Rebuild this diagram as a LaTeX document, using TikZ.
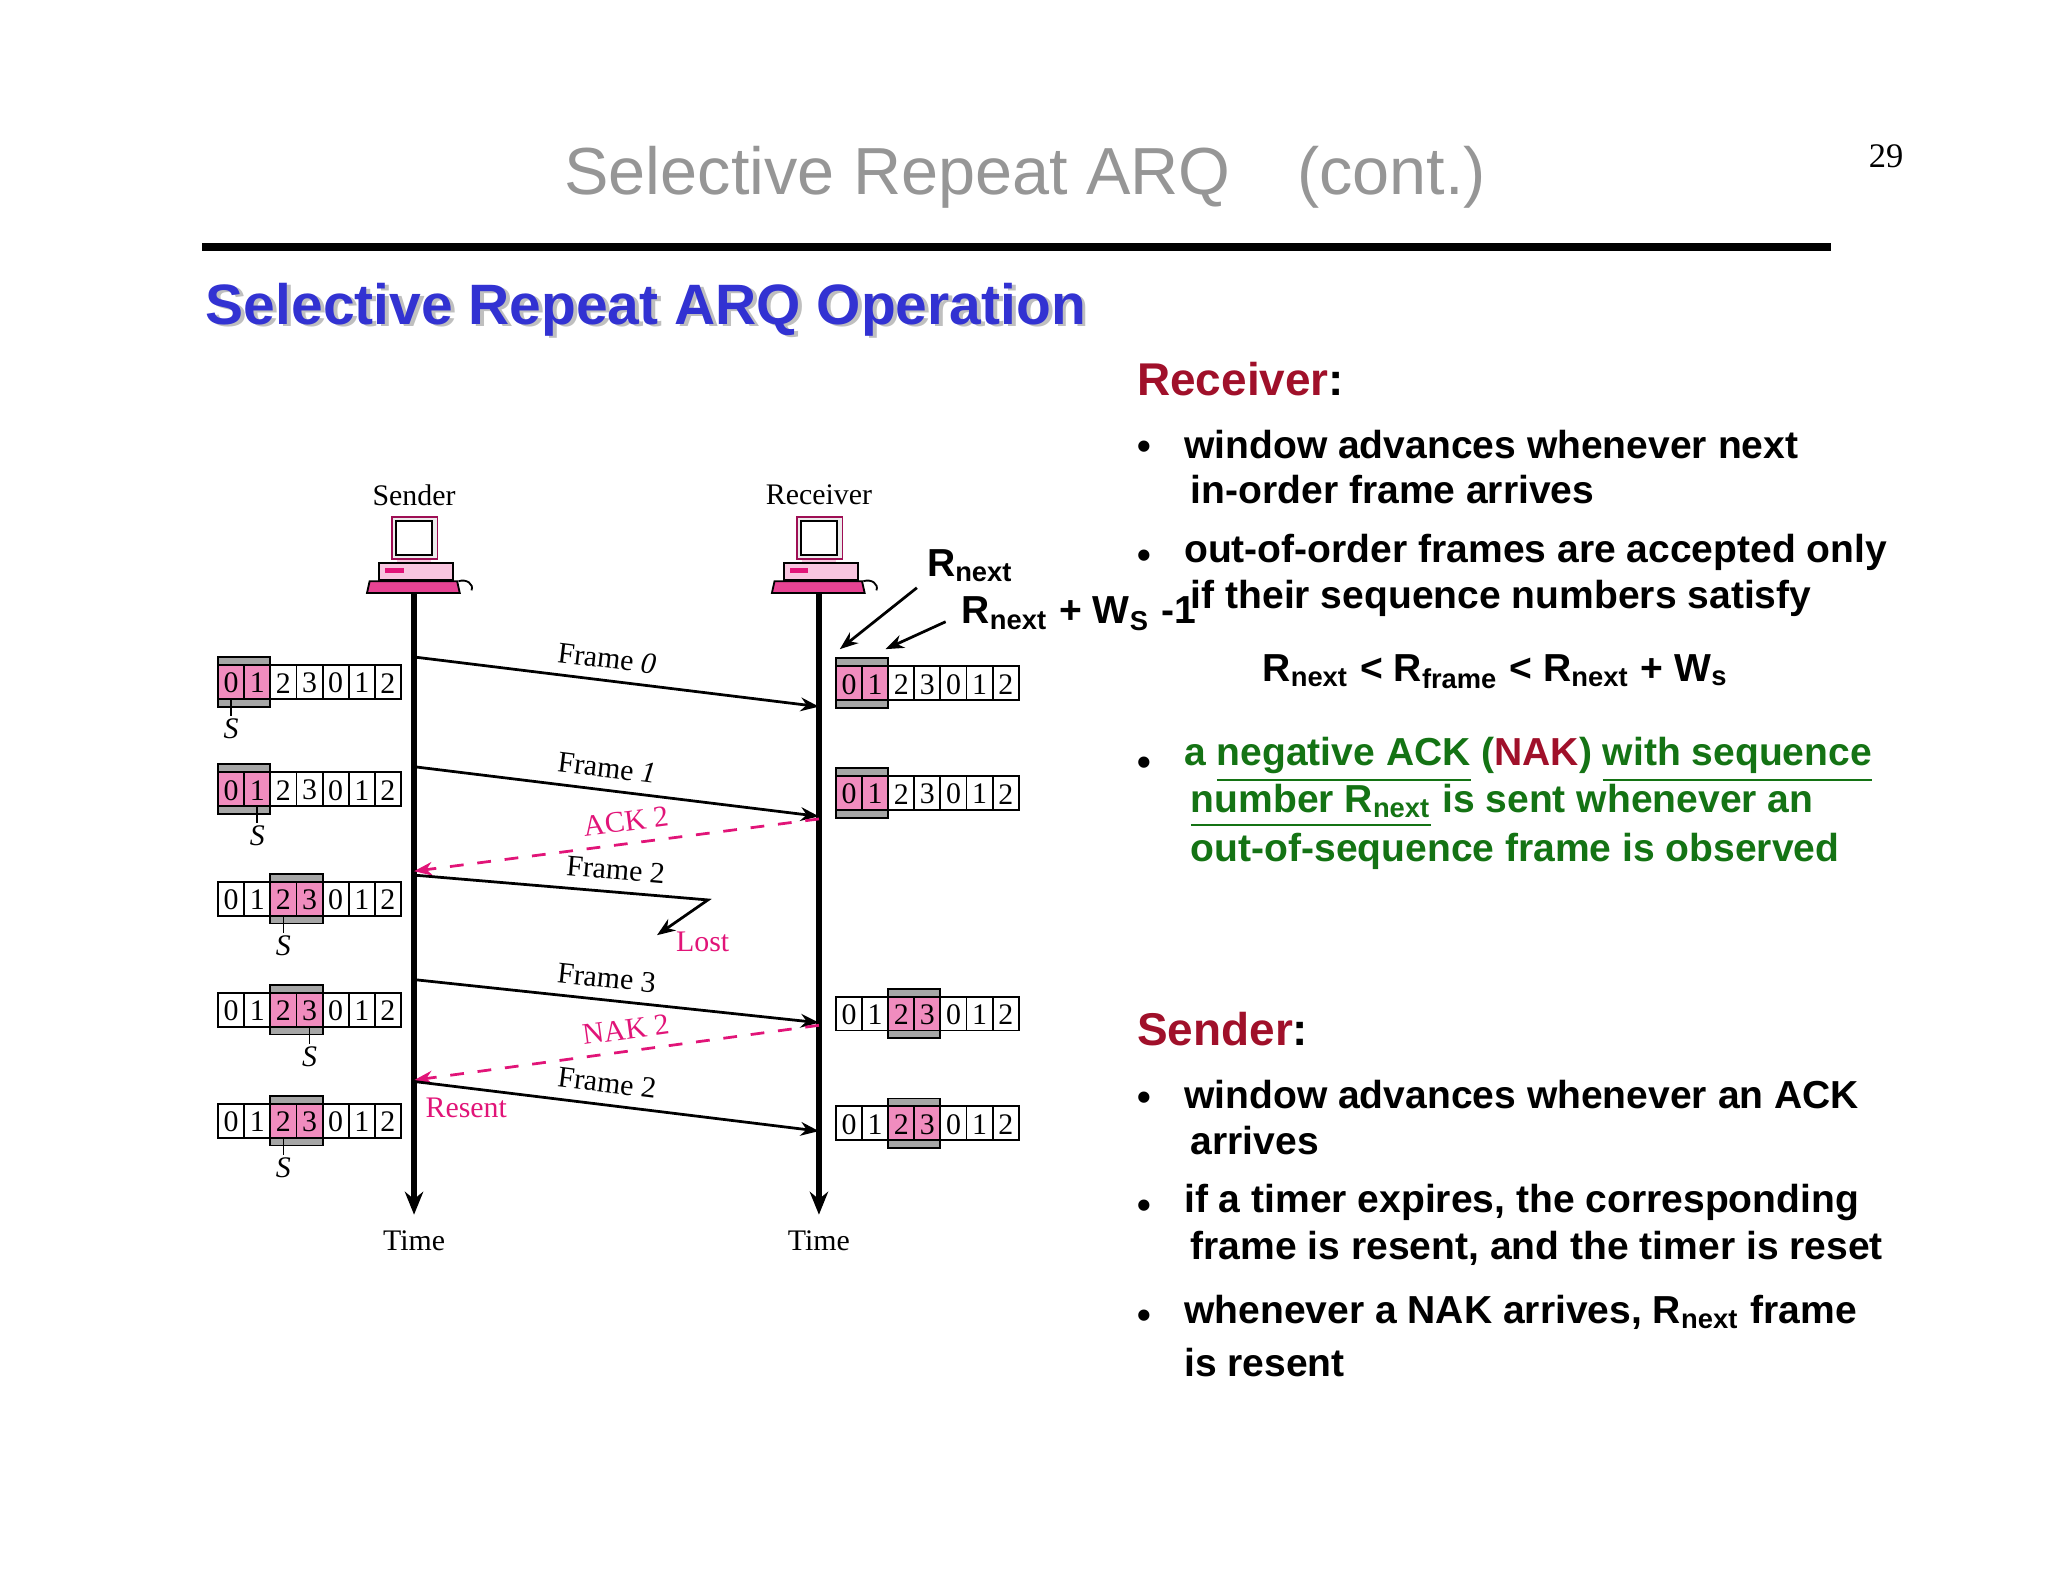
\documentclass[tikz,border=0pt]{standalone}
\usepackage{fontspec}
\setmainfont{Liberation Serif}
\newfontfamily\sans{Liberation Sans}
\usetikzlibrary{arrows.meta}
\definecolor{pinkc}{RGB}{240,140,190}
\definecolor{magc}{RGB}{225,20,120}
\definecolor{dred}{RGB}{160,16,42}
\definecolor{grn}{RGB}{20,115,20}
\definecolor{bluec}{RGB}{50,50,210}
\definecolor{titleg}{RGB}{150,150,150}
\newcommand\win[3]{% x y start
  \fill[gray!70] ({#1+20*#3},{#2-19}) rectangle ({#1+20*#3+40},{#2+19});
  \draw[line width=0.4pt] ({#1+20*#3},{#2-19}) rectangle ({#1+20*#3+40},{#2+19});
  \foreach \d [count=\i from 0] in {0,1,2,3,0,1,2}{
    \pgfmathsetmacro\fc{(\i==#3 || \i==#3+1) ? 1 : 0}
    \ifdim\fc pt>0.5pt \def\cc{pinkc}\else\def\cc{white}\fi
    \draw[fill=\cc,line width=0.4pt] ({#1+20*\i},{#2-13}) rectangle ({#1+20*\i+20},{#2+13});
    \node[font=\fontsize{6.5}{7}\selectfont] at ({#1+20*\i+10},{#2+1}) {\d};
  }}
\newcommand\spt[3]{% x y cell
  \draw[line width=0.4pt] ({#1+20*#3+10},{#2+13}) -- ({#1+20*#3+10},{#2+26});
  \node[font=\itshape\fontsize{6.5}{8}\selectfont] at ({#1+20*#3+10},{#2+36}) {S};}
\newcommand\comp[2]{%
  \begin{scope}[shift={(#1,#2)}]
  \fill[pinkc!50] (-13,2) rectangle (13,14);
  \draw[magc!70!black,fill=gray!15] (-17,-29) rectangle (18,3);
  \draw[fill=white] (-14,-26) rectangle (14,0);
  \draw[fill=pinkc!50] (-27,6) rectangle (30,19);
  \fill[magc] (-22,10) rectangle (-8,14);
  \draw[fill=magc!80] (-34,20) -- (33,20) -- (35,29) -- (-36,29) -- cycle;
  \draw (34,20) .. controls (40,18) and (46,22) .. (44,27);
  \end{scope}}
\tikzset{
  lbl/.style={font=\fontsize{6.5}{8}\selectfont},
  sf/.style={font=\sans\bfseries\fontsize{8.5}{10}\selectfont, anchor=west, inner sep=0},
  arr/.style={line width=0.6pt,-{Stealth[length=4pt,width=3pt]}},
  nak/.style={magc,dashed,line width=0.6pt,-{Stealth[length=4pt,width=3pt]}},
}
\begin{document}
\begin{tikzpicture}[x=0.01cm,y=-0.01cm]
\path[use as bounding box] (0,0) rectangle (1568,1211);
% header
\node[font=\sans\fontsize{14.5}{17}\selectfont, text=titleg] (title) at (785,136) {Selective Repeat ARQ\quad(cont.)};
\node[font=\fontsize{7.5}{9}\selectfont] (pg) at (1444,120) {29};
\draw[line width=1.6pt] (155,189) -- (1402,189);
\node[font=\sans\bfseries\fontsize{12.4}{14}\selectfont, text=gray!50, anchor=west, inner sep=0] at (160,239) {Selective Repeat ARQ Operation};
\node[font=\sans\bfseries\fontsize{12.4}{14}\selectfont, text=bluec, anchor=west, inner sep=0] (head) at (157,237) {Selective Repeat ARQ Operation};
% hosts
\node[lbl] (snd) at (317,379) {Sender};
\node[lbl] (rcv) at (627,379) {Receiver};
\comp{317}{425}\comp{627}{425}
\coordinate (s0) at (317,455); \coordinate (s1) at (317,930);
\coordinate (r0) at (627,455); \coordinate (r1) at (627,930);
\draw[line width=1.3pt,-{Stealth[length=5pt,width=4pt]}] (s0) -- (s1);
\draw[line width=1.3pt,-{Stealth[length=5pt,width=4pt]}] (r0) -- (r1);
\node[lbl] (t1) at (317,950) {Time};
\node[lbl] (t2) at (627,950) {Time};
% windows
\win{167}{522}{0}\spt{167}{522}{0}
\win{167}{604}{0}\spt{167}{604}{1}
\win{167}{688}{2}\spt{167}{688}{2}
\win{167}{773}{2}\spt{167}{773}{3}
\win{167}{858}{2}\spt{167}{858}{2}
\win{640}{523}{0}
\win{640}{607}{0}
\win{640}{776}{2}
\win{640}{860}{2}
% messages
\coordinate (a0) at (317,503); \coordinate (b0) at (627,541);
\coordinate (a1) at (317,587); \coordinate (b1) at (627,625);
\coordinate (a2) at (627,627); \coordinate (b2) at (317,667);
\coordinate (a3) at (317,670); \coordinate (m3) at (542,689); \coordinate (b3) at (503,716);
\coordinate (a4) at (317,750); \coordinate (b4) at (627,783);
\coordinate (a5) at (627,785); \coordinate (b5) at (317,827);
\coordinate (a6) at (317,828); \coordinate (b6) at (627,866);
\tikzset{ml/.style={lbl,sloped,pos=0.47,above=-1pt}}
\draw[arr] (a0) -- node[ml]{Frame \textit{0}} (b0);
\draw[arr] (a1) -- node[ml]{Frame \textit{1}} (b1);
\draw[nak] (a2) -- node[ml,text=magc]{ACK 2} (b2);
\draw[arr] (a3) -- node[ml,pos=0.68]{Frame 2} (m3) -- (b3);
\node[lbl,text=magc] (lost) at (538,721) {Lost};
\draw[arr] (a4) -- node[ml]{Frame 3} (b4);
\draw[nak] (a5) -- node[ml,text=magc]{NAK 2} (b5);
\draw[arr] (a6) -- node[ml]{Frame 2} (b6);
\node[lbl,text=magc] (res) at (357,848) {Resent};
% Rnext annotations
\node[font=\sans\bfseries\fontsize{8.5}{10}\selectfont] (rn) at (743,433) {R\textsubscript{next}};
\node[font=\sans\bfseries\fontsize{8.5}{10}\selectfont] (rnw) at (826,470) {R\textsubscript{next} + W\textsubscript{S} -1};
\coordinate (rnA) at (702,450); \coordinate (rnB) at (643,497);
\coordinate (rwA) at (724,476); \coordinate (rwB) at (678,497);
\draw[arr] (rnA) -- (rnB);
\draw[arr] (rwA) -- (rwB);
% right text
\node[sf,text=dred,font=\sans\bfseries\fontsize{10}{12}\selectfont] (rt) at (870,290) {Receiver\textcolor{black}{:}};
\foreach \y in {340,423,582,838,921,1005} \node[sf] at (870,\y+5) {\textbullet};
\node[sf] (r1a) at (906,340) {window advances whenever next};
\node[sf] (r1b) at (911,375) {in-order frame arrives};
\node[sf] (r2a) at (906,423) {out-of-order frames are accepted only};
\node[sf] (r2b) at (911,458) {if their sequence numbers satisfy};
\node[sf] (form) at (966,514) {R\textsubscript{next} < R\textsubscript{frame} < R\textsubscript{next} + W\textsubscript{s}};
\node[sf,text=grn] (g1) at (906,582) {a \underline{negative ACK} (\textcolor{dred}{NAK}) \underline{with sequence}};
\node[sf,text=grn] (g2) at (911,617) {\underline{number R\textsubscript{next}} is sent whenever an};
\node[sf,text=grn] (g3) at (911,652) {out-of-sequence frame is observed};
\node[sf,text=dred,font=\sans\bfseries\fontsize{10}{12}\selectfont] (st) at (870,788) {Sender\textcolor{black}{:}};
\node[sf] (s1a) at (906,838) {window advances whenever an ACK};
\node[sf] (s1b) at (911,873) {arrives};
\node[sf] (s2a) at (906,921) {if a timer expires, the corresponding};
\node[sf] (s2b) at (911,956) {frame is resent, and the timer is reset};
\node[sf] (s3a) at (906,1005) {whenever a NAK arrives, R\textsubscript{next} frame};
\node[sf] (s3b) at (906,1043) {is resent};
\end{tikzpicture}
\end{document}
